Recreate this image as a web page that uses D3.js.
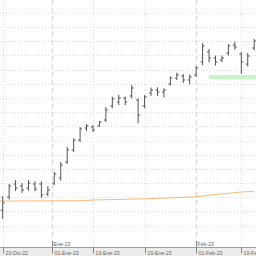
<!DOCTYPE html>
<html>
<head>
<meta charset="utf-8">
<script src="https://cdn.jsdelivr.net/npm/d3@7"></script>
<style>
  html, body { margin: 0; padding: 0; background: #fff; }
  svg { display: block; }
</style>
</head>
<body>
<div id="chart"></div>
<script>
// trading days shown
const dates = [
  "2022-12-20", "2022-12-21", "2022-12-22", "2022-12-23", "2022-12-27", "2022-12-28",
  "2022-12-29", "2022-12-30", "2023-01-02", "2023-01-03", "2023-01-04", "2023-01-05",
  "2023-01-06", "2023-01-09", "2023-01-10", "2023-01-11", "2023-01-12", "2023-01-13",
  "2023-01-16", "2023-01-17", "2023-01-18", "2023-01-19", "2023-01-20", "2023-01-23",
  "2023-01-24", "2023-01-25", "2023-01-26", "2023-01-27", "2023-01-30", "2023-01-31",
  "2023-02-01", "2023-02-02", "2023-02-03", "2023-02-06", "2023-02-07", "2023-02-08",
  "2023-02-09", "2023-02-10", "2023-02-13", "2023-02-14"
]
const open = [
  7.221, 7.404, 7.587, 7.559, 7.531, 7.587, 7.587, 7.446, 7.601, 7.672,
  7.897, 8.066, 8.207, 8.376, 8.390, 8.404, 8.489, 8.686, 8.742, 8.799,
  8.827, 8.770, 8.686, 8.869, 8.911, 8.883, 8.996, 9.080, 9.108, 9.052,
  9.123, 9.306, 9.446, 9.362, 9.334, 9.432, 9.545, 9.418, 9.277, 9.503
]
const high = [
  7.418, 7.587, 7.644, 7.601, 7.644, 7.625, 7.625, 7.555, 7.756, 7.897,
  8.108, 8.231, 8.390, 8.432, 8.418, 8.475, 8.672, 8.817, 8.841, 8.817,
  8.982, 8.794, 8.841, 8.946, 8.949, 8.935, 9.104, 9.155, 9.137, 9.130,
  9.249, 9.573, 9.489, 9.397, 9.397, 9.559, 9.592, 9.446, 9.432, 9.630
]
const low = [
  7.094, 7.369, 7.489, 7.461, 7.493, 7.485, 7.390, 7.414, 7.573, 7.634,
  7.869, 8.038, 8.179, 8.334, 8.320, 8.390, 8.461, 8.654, 8.700, 8.700,
  8.794, 8.442, 8.654, 8.827, 8.827, 8.806, 8.975, 9.052, 9.010, 8.989,
  9.094, 9.263, 9.299, 9.256, 9.306, 9.397, 9.479, 9.137, 9.242, 9.470
]
const close = [
  7.320, 7.559, 7.531, 7.503, 7.601, 7.517, 7.432, 7.503, 7.728, 7.855,
  8.066, 8.207, 8.362, 8.404, 8.348, 8.461, 8.630, 8.785, 8.799, 8.742,
  8.939, 8.559, 8.813, 8.911, 8.883, 8.911, 9.080, 9.123, 9.052, 9.094,
  9.221, 9.531, 9.362, 9.306, 9.362, 9.531, 9.517, 9.306, 9.390, 9.601
]
// long moving average (orange)
const maStart = 7.346   // value just before the first bar
const ma = [
  7.347, 7.347, 7.348, 7.348, 7.348, 7.349, 7.349, 7.349, 7.350, 7.350,
  7.351, 7.351, 7.352, 7.353, 7.362, 7.364, 7.366, 7.368, 7.370, 7.372,
  7.374, 7.376, 7.378, 7.381, 7.386, 7.389, 7.392, 7.396, 7.400, 7.404,
  7.408, 7.418, 7.428, 7.438, 7.448, 7.457, 7.466, 7.474, 7.480, 7.485
]
// green support level
const supportLevel = 9.094
const supportFrom = "2023-02-03"

const dayTicks = ["2022-12-20", "2023-01-01", "2023-01-10", "2023-01-20", "2023-02-01", "2023-02-10"]
const dayLabels = ["20-Dic-22", "01-Ene-23", "10-Ene-23", "20-Ene-23", "01-Feb-23", "10-Feb-23"]
const monthTicks = ["2023-01-01", "2023-02-01"]
const monthLabels = ["Ene-23", "Feb-23"]
const priceGrid = d3.range(7.0, 10.001, 0.2)

var width = 256
var height = 256
var axisTop = 247.5

var parse = d3.timeParse("%Y-%m-%d")
var times = dates.map(function (d) { return parse(d).getTime() })

// date -> fractional bar index (interpolated between trading days)
function dateIndex(s) {
    var t = parse(s).getTime()
    var i = d3.bisectLeft(times, t)
    if (i <= 0) return 0
    if (i >= times.length) return times.length - 1
    if (times[i] === t) return i
    return i - 1 + (t - times[i - 1]) / (times[i] - times[i - 1])
}

var x = d3.scaleLinear().domain([0, 37]).range([2.7, 241.3])
var y = d3.scaleLinear().domain([7.0, 10.0]).range([225.7, 12.7])

var svg = d3.select("#chart")
    .append("svg")
    .attr("width", width)
    .attr("height", height)

var plot = svg.append("g")

// horizontal dotted grid
plot.selectAll(".hgrid")
    .data(priceGrid)
    .enter()
    .append("line")
    .attr("x1", 0).attr("x2", width)
    .attr("y1", function (d) { return Math.round(y(d)) + 0.5 })
    .attr("y2", function (d) { return Math.round(y(d)) + 0.5 })
    .attr("stroke", "#dcdcdc")
    .attr("stroke-dasharray", "1,2")

// vertical grid: dotted at day ticks, dashed at month starts
plot.selectAll(".vgrid")
    .data(dayTicks)
    .enter()
    .append("line")
    .attr("x1", function (d) { return Math.round(x(dateIndex(d))) + 0.5 })
    .attr("x2", function (d) { return Math.round(x(dateIndex(d))) + 0.5 })
    .attr("y1", 0).attr("y2", axisTop)
    .attr("stroke", "#dcdcdc")
    .attr("stroke-dasharray", function (d) { return monthTicks.indexOf(d) >= 0 ? "5,3" : "1,2" })
    .attr("stroke-width", function (d) { return monthTicks.indexOf(d) >= 0 ? 1.5 : 1 })

// support band
plot.append("line")
    .attr("x1", x(dateIndex(supportFrom)))
    .attr("x2", width)
    .attr("y1", y(supportLevel))
    .attr("y2", y(supportLevel))
    .attr("stroke", "#c4f5c4")
    .attr("stroke-width", 4)

// moving average
var maPoints = [[-1, maStart]].concat(ma.map(function (v, i) { return [i, v] }))
plot.append("path")
    .datum(maPoints)
    .attr("fill", "none")
    .attr("stroke", "#f8b878")
    .attr("stroke-width", 1)
    .attr("d", d3.line()
        .x(function (d) { return x(d[0]) })
        .y(function (d) { return y(d[1]) }))

// OHLC bars
var bars = plot.selectAll(".bar")
    .data(dates.map(function (d, i) { return i }))
    .enter()
    .append("g")
    .attr("stroke", "#555")
    .attr("stroke-width", 1)

bars.append("line")
    .attr("x1", function (i) { return x(i) }).attr("x2", function (i) { return x(i) })
    .attr("y1", function (i) { return y(high[i]) }).attr("y2", function (i) { return y(low[i]) })
bars.append("line")
    .attr("x1", function (i) { return x(i) - 2 }).attr("x2", function (i) { return x(i) })
    .attr("y1", function (i) { return y(open[i]) }).attr("y2", function (i) { return y(open[i]) })
bars.append("line")
    .attr("x1", function (i) { return x(i) }).attr("x2", function (i) { return x(i) + 2 })
    .attr("y1", function (i) { return y(close[i]) }).attr("y2", function (i) { return y(close[i]) })

// month labels above the axis band
var months = svg.selectAll(".month")
    .data(monthTicks)
    .enter()
    .append("g")
    .attr("transform", function (d) { return "translate(" + (Math.round(x(dateIndex(d))) + 0.5) + ",0)" })
months.append("line")
    .attr("y1", 241).attr("y2", axisTop)
    .attr("stroke", "#888")
months.append("text")
    .attr("x", 1).attr("y", 246)
    .attr("font-family", "Liberation Sans, Arial, sans-serif")
    .attr("font-size", 5.2)
    .attr("fill", "#666")
    .text(function (d, i) { return monthLabels[i] })

// bottom axis band
svg.append("rect")
    .attr("x", 0).attr("y", axisTop)
    .attr("width", width).attr("height", height - axisTop)
    .attr("fill", "#ececec")
svg.append("line")
    .attr("x1", 0).attr("x2", width)
    .attr("y1", axisTop).attr("y2", axisTop)
    .attr("stroke", "#a0a0a0")

var ticks = svg.selectAll(".tick")
    .data(dayTicks)
    .enter()
    .append("g")
    .attr("transform", function (d) { return "translate(" + (Math.round(x(dateIndex(d))) + 0.5) + ",0)" })
ticks.append("line")
    .attr("y1", axisTop).attr("y2", 253.5)
    .attr("stroke", "#888")
ticks.append("text")
    .attr("x", 2).attr("y", 254.5)
    .attr("font-family", "Liberation Sans, Arial, sans-serif")
    .attr("font-size", 5.2)
    .attr("fill", "#666")
    .text(function (d, i) { return dayLabels[i] })
</script>
</body>
</html>
